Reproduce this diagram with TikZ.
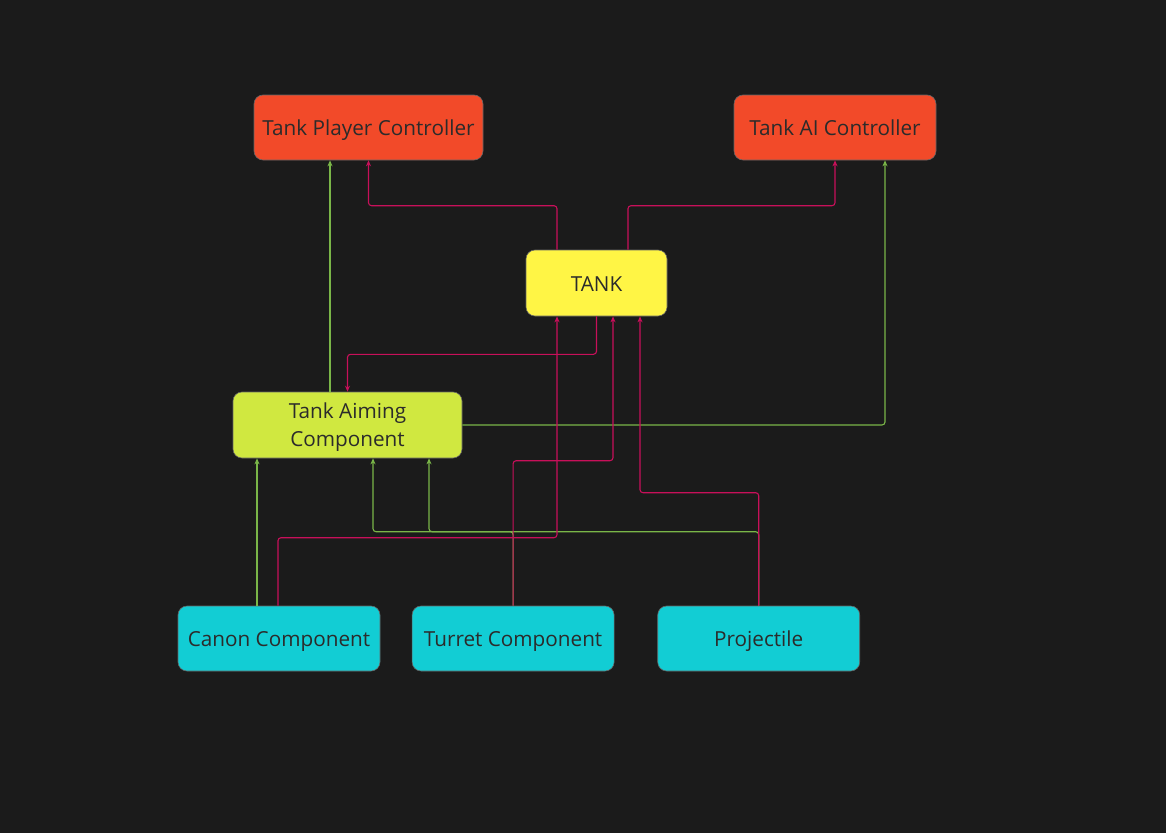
\documentclass[tikz,border=0pt]{standalone}
\usepackage{fontspec}
\setmainfont{Open Sans}
\usepackage{tikz}
\usetikzlibrary{positioning,arrows.meta}

\definecolor{bgcol}{HTML}{1B1B1B}
\definecolor{ctrlred}{HTML}{F24A29}
\definecolor{tankyel}{HTML}{FFF545}
\definecolor{aimlime}{HTML}{D0E840}
\definecolor{compcyan}{HTML}{12CDD4}
\definecolor{linkpink}{HTML}{C8105A}
\definecolor{linkgreen}{HTML}{7AB648}
\definecolor{txtdark}{HTML}{2B2B2B}

\begin{document}
\begin{tikzpicture}[x=1bp,y=-1bp,>={Stealth[length=6bp,width=5bp]},
    box/.style={rectangle,rounded corners=9bp,inner sep=0pt,minimum height=65bp,
      text=txtdark,font=\fontsize{20.8}{28}\selectfont,align=center,
      draw=black!60,line width=0.6bp},
    oneline/.style={box,text height=16bp,text depth=0bp},
    ctrl/.style={oneline,fill=ctrlred,minimum width=229bp},
    comp/.style={oneline,fill=compcyan,minimum width=202bp},
    pk/.style={->,draw=linkpink,line width=1.1bp,rounded corners=3bp},
    gr/.style={->,draw=linkgreen,line width=1.1bp,rounded corners=3bp}]
  \fill[bgcol] (0,0) rectangle (1166,833);
  \useasboundingbox (0,0) rectangle (1166,833);

  \node[ctrl] (tpc) at (368.5,127.5) {Tank Player Controller};
  \node[ctrl,minimum width=202bp] (tai) at (835,127.5) {Tank AI Controller};
  \node[oneline,fill=tankyel,minimum width=141bp,minimum height=66bp] (tank) at (596.5,283) {TANK};
  \node[box,text depth=0bp,fill=aimlime,minimum width=229bp,minimum height=66bp] (aim) at (347.5,425) {Tank Aiming\\Component};
  \node[comp] (canon) at (279,638.5) {Canon Component};
  \node[comp,right=31.5bp of canon] (turret) {Turret Component};
  \node[comp,right=43bp of turret] (proj) {Projectile};

  % aiming component links
  \draw[gr] ([xshift=-17.5bp]aim.north) -- ([xshift=-17.5bp]aim.north |- tpc.south);
  \draw[gr] (aim.east) -| ([xshift=50bp]tai.south);
  \draw[gr] ([xshift=-22bp]canon.north) -- ([xshift=-22bp]canon.north |- aim.south);
  \draw[gr] (turret.north) -- ++(0,-74) -| ([xshift=25.5bp]aim.south);
  \draw[gr] (proj.north) -- ++(0,-74) -| ([xshift=81.5bp]aim.south);

  % tank links
  \draw[pk] ([xshift=-39.5bp]tank.north) -- ++(0,-44) -| (tpc.south);
  \draw[pk] ([xshift=31.5bp]tank.north) -- ++(0,-44) -| (tai.south);
  \draw[pk] (tank.south) -- ++(0,38) -| (aim.north);
  \draw[pk] ([xshift=-1bp]canon.north) -- ++(0,-68) -| ([xshift=-39.5bp]tank.south);
  \draw[pk] (turret.north) -- ++(0,-145) -| ([xshift=16.5bp]tank.south);
  \draw[pk] (proj.north) -- ++(0,-113) -| ([xshift=43.5bp]tank.south);
\end{tikzpicture}
\end{document}
